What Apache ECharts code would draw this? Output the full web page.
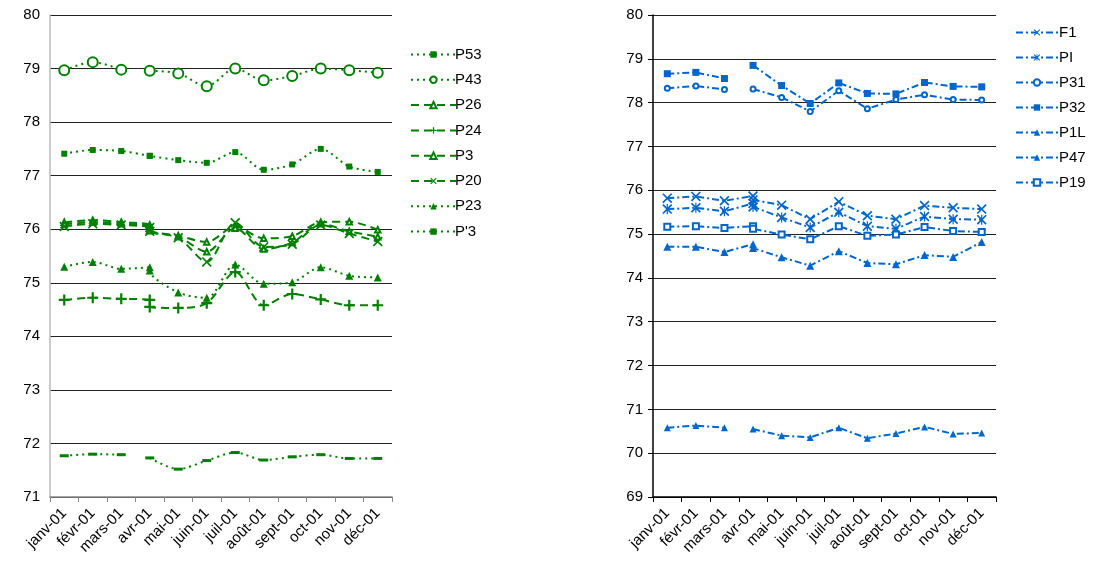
<!DOCTYPE html>
<html>
<head>
<meta charset="utf-8">
<script src="https://cdn.jsdelivr.net/npm/echarts@6/dist/echarts.min.js"></script>
<style>
    html, body { margin: 0; padding: 0; background: #fff; }
    #main { width: 1093px; height: 571px; }
</style>
</head>
<body>
<div id="main"></div>
<script type="text/javascript">
    // mois affichés sur l'axe
    var months = ['janv-01', 'févr-01', 'mars-01', 'avr-01', 'mai-01', 'juin-01',
        'juil-01', 'août-01', 'sept-01', 'oct-01', 'nov-01', 'déc-01'];
    // mois de chaque ligne de mesure (deux relevés en avril)
    var monthIdx = [0, 1, 2, 3, 3, 4, 5, 6, 7, 8, 9, 10, 11];

    // graphique de gauche
    var P53 = [77.41, 77.48, 77.46, 77.37, 77.37, 77.29, 77.24, 77.44, 77.11, 77.21, 77.50, 77.17, 77.07];
    var P43 = [78.97, 79.12, 78.98, null, 78.96, 78.91, 78.67, 79.00, 78.78, 78.86, 79.00, 78.97, 78.92];
    var P26 = [76.13, 76.17, 76.13, 76.08, 75.98, 75.88, 75.76, 76.05, 75.83, 75.87, 76.13, 76.14, 75.99];
    var P24 = [74.68, 74.72, 74.70, 74.68, 74.55, 74.53, 74.62, 75.20, 74.58, 74.79, 74.69, 74.58, 74.58];
    var P3 = [76.09, 76.13, 76.10, 76.06, 75.97, 75.86, 75.58, 76.02, 75.63, 75.75, 76.10, 75.96, 75.86];
    var P20 = [76.05, 76.10, 76.08, 76.03, 75.96, 75.84, 75.39, 76.12, 75.67, 75.72, 76.08, 75.92, 75.77];
    var P23 = [75.30, 75.39, 75.26, 75.29, 75.23, 74.82, 74.72, 75.34, 74.98, 75.01, 75.29, 75.13, 75.10];
    var Pp3 = [71.77, 71.80, 71.79, null, 71.73, 71.52, 71.68, 71.83, 71.69, 71.75, 71.79, 71.72, 71.72];

    // graphique de droite
    var F1 = [75.82, 75.86, 75.76, 75.87, 75.78, 75.66, 75.34, 75.74, 75.42, 75.34, 75.65, 75.60, 75.57];
    var PI = [75.57, 75.60, 75.52, 75.70, 75.62, 75.38, 75.15, 75.50, 75.18, 75.12, 75.40, 75.34, 75.33];
    var P31 = [78.33, 78.38, 78.30, null, 78.31, 78.12, 77.80, 78.27, 77.86, 78.07, 78.18, 78.07, 78.06];
    var P32 = [78.66, 78.69, 78.55, null, 78.85, 78.39, 77.98, 78.45, 78.21, 78.20, 78.46, 78.37, 78.36];
    var P1L = [74.71, 74.71, 74.59, 74.77, 74.68, 74.47, 74.28, 74.61, 74.34, 74.31, 74.52, 74.48, 74.82];
    var P47 = [70.58, 70.63, 70.58, null, 70.55, 70.40, 70.36, 70.58, 70.34, 70.45, 70.60, 70.44, 70.46];
    var P19 = [75.17, 75.18, 75.14, 75.18, 75.12, 74.99, 74.88, 75.18, 74.96, 74.99, 75.16, 75.07, 75.05];

    var green = '#008000';
    var blue = '#0066cc';
    var font = 'Liberation Sans, Arial, sans-serif';

    // symboles
    var plus = 'path://M4 0h2v10h-2z M0 4h10v2h-10z';
    var cross = 'path://M0 1.2L1.2 0L10 8.8L8.8 10Z M8.8 0L10 1.2L1.2 10L0 8.8Z';
    var star = 'path://M0 1.2L1.2 0L10 8.8L8.8 10Z M8.8 0L10 1.2L1.2 10L0 8.8Z M4.4 0h1.2v10h-1.2z';
    var dash = 'path://M0 0h10v3h-10z';

    function pts(vals) {
        return vals.map(function (v, i) {
            return [monthIdx[i] + 0.5, v == null ? '-' : v];
        });
    }

    function line(name, vals, gi, color, dashType, symbol, size, empty, smooth) {
        return {
            name: name,
            type: 'line',
            xAxisIndex: gi * 2 + 1,
            yAxisIndex: gi,
            data: pts(vals),
            smooth: smooth ? 0.3 : false,
            connectNulls: false,
            symbol: symbol,
            symbolSize: size,
            showAllSymbol: true,
            lineStyle: { color: color, width: 2, type: dashType },
            itemStyle: {
                color: color,
                borderColor: color,
                borderWidth: empty ? 1.5 : 0
            },
            emphasis: { disabled: true }
        };
    }

    var dotted = [2, 4];
    var dashed = [8, 5];
    var dashDot = [7, 3, 2, 3];

    function catAxis(gi, axisColor) {
        return {
            type: 'category',
            gridIndex: gi,
            data: months,
            boundaryGap: true,
            axisLine: { lineStyle: { color: axisColor, width: 1.5 } },
            axisTick: { show: true, length: 5, lineStyle: { color: axisColor } },
            axisLabel: { rotate: 45, margin: 14, fontSize: 15, color: '#000', fontFamily: font, interval: 0 }
        };
    }

    function valXAxis(gi) {
        return { type: 'value', gridIndex: gi, min: 0, max: 12, show: false, splitLine: { show: false } };
    }

    function yAxis(gi, min, axisColor, tick) {
        return {
            type: 'value',
            gridIndex: gi,
            min: min,
            max: 80,
            interval: 1,
            axisLine: { show: true, lineStyle: { color: axisColor, width: 1.5 } },
            axisTick: { show: tick, length: 5, lineStyle: { color: '#000' } },
            axisLabel: { fontSize: 15, color: '#000', fontFamily: font, margin: 10 },
            splitLine: { lineStyle: { color: '#222', width: 1 } }
        };
    }

    var myChart = echarts.init(document.getElementById('main'));
    myChart.setOption({
        animation: false,
        backgroundColor: '#fff',
        grid: [
            { left: 50, top: 15, width: 342, height: 482 },
            { left: 653, top: 15, width: 343, height: 482 }
        ],
        xAxis: [catAxis(0, '#888'), valXAxis(0), catAxis(1, '#000'), valXAxis(1)],
        yAxis: [yAxis(0, 71, '#bbb', false), yAxis(1, 69, '#000', true)],
        legend: [
            {
                orient: 'vertical',
                left: 405,
                top: 42,
                itemWidth: 45,
                itemHeight: 8,
                itemGap: 10.3,
                textStyle: { fontSize: 15, color: '#000', fontFamily: font, padding: [0, 0, 0, -6] },
                data: ['P53', 'P43', 'P26', 'P24', 'P3', 'P20', 'P23', "P'3"]
            },
            {
                orient: 'vertical',
                left: 1010,
                top: 20,
                itemWidth: 42,
                itemHeight: 8,
                itemGap: 10,
                textStyle: { fontSize: 15, color: '#000', fontFamily: font, padding: [0, 0, 0, -4] },
                data: ['F1', 'PI', 'P31', 'P32', 'P1L', 'P47', 'P19']
            }
        ],
        series: [
            line('P53', P53, 0, green, dotted, 'rect', 6, false, true),
            line('P43', P43, 0, green, dotted, 'emptyCircle', 10, true, true),
            line('P26', P26, 0, green, dashed, 'emptyTriangle', 5.5, true, true),
            line('P24', P24, 0, green, dashed, plus, 11, false, true),
            line('P3', P3, 0, green, dashed, 'emptyTriangle', 5.5, true, true),
            line('P20', P20, 0, green, dashed, cross, 10, false, true),
            line('P23', P23, 0, green, dotted, 'triangle', 8, false, true),
            line("P'3", Pp3, 0, green, dotted, dash, [9, 3], false, true),

            line('F1', F1, 1, blue, dashDot, cross, 10, false, false),
            line('PI', PI, 1, blue, dashDot, star, 10, false, false),
            line('P31', P31, 1, blue, dashDot, 'emptyCircle', 5, true, false),
            line('P32', P32, 1, blue, dashDot, 'rect', 7, false, false),
            line('P1L', P1L, 1, blue, dashDot, 'triangle', 8, false, false),
            line('P47', P47, 1, blue, dashDot, 'triangle', 7, false, false),
            line('P19', P19, 1, blue, dashDot, 'emptyRect', 6, true, false)
        ]
    });
</script>
</body>
</html>
